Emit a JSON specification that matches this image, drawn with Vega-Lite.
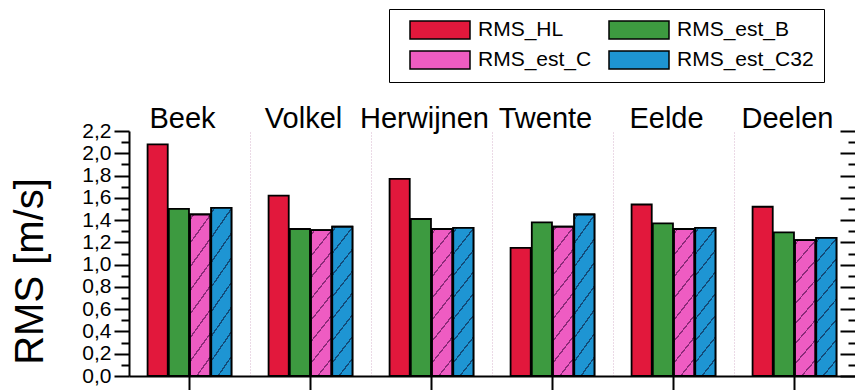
{
  "$schema": "https://vega.github.io/schema/vega-lite/v6.json",
  "width": 726,
  "height": 245,
  "autosize": {"type": "none"},
  "padding": {"left": 129, "top": 131, "right": 0, "bottom": 14},
  "background": "white",
  "config": {
    "view": {"stroke": null},
    "font": "Liberation Sans"
  },
  "data": {
    "values": [
      {"station": "Beek", "series": "RMS_HL", "value": 2.08},
      {"station": "Beek", "series": "RMS_est_B", "value": 1.50},
      {"station": "Beek", "series": "RMS_est_C", "value": 1.45},
      {"station": "Beek", "series": "RMS_est_C32", "value": 1.51},
      {"station": "Volkel", "series": "RMS_HL", "value": 1.62},
      {"station": "Volkel", "series": "RMS_est_B", "value": 1.32},
      {"station": "Volkel", "series": "RMS_est_C", "value": 1.31},
      {"station": "Volkel", "series": "RMS_est_C32", "value": 1.34},
      {"station": "Herwijnen", "series": "RMS_HL", "value": 1.77},
      {"station": "Herwijnen", "series": "RMS_est_B", "value": 1.41},
      {"station": "Herwijnen", "series": "RMS_est_C", "value": 1.32},
      {"station": "Herwijnen", "series": "RMS_est_C32", "value": 1.33},
      {"station": "Twente", "series": "RMS_HL", "value": 1.15},
      {"station": "Twente", "series": "RMS_est_B", "value": 1.38},
      {"station": "Twente", "series": "RMS_est_C", "value": 1.34},
      {"station": "Twente", "series": "RMS_est_C32", "value": 1.45},
      {"station": "Eelde", "series": "RMS_HL", "value": 1.54},
      {"station": "Eelde", "series": "RMS_est_B", "value": 1.37},
      {"station": "Eelde", "series": "RMS_est_C", "value": 1.32},
      {"station": "Eelde", "series": "RMS_est_C32", "value": 1.33},
      {"station": "Deelen", "series": "RMS_HL", "value": 1.52},
      {"station": "Deelen", "series": "RMS_est_B", "value": 1.29},
      {"station": "Deelen", "series": "RMS_est_C", "value": 1.22},
      {"station": "Deelen", "series": "RMS_est_C32", "value": 1.24}
    ]
  },
  "layer": [
    {
      "mark": {"type": "bar", "stroke": "black", "strokeWidth": 1.8},
      "encoding": {
        "x": {
          "field": "station", "type": "nominal",
          "sort": ["Beek", "Volkel", "Herwijnen", "Twente", "Eelde", "Deelen"],
          "scale": {"paddingInner": 0, "paddingOuter": 0},
          "axis": {
            "orient": "bottom", "title": null, "labels": false,
            "tickSize": 14, "tickWidth": 2, "tickColor": "black",
            "domainColor": "black", "domainWidth": 2, "grid": false
          }
        },
        "xOffset": {
          "field": "series", "type": "nominal",
          "scale": {"paddingInner": 0.05, "paddingOuter": 0.875}
        },
        "y": {
          "field": "value", "type": "quantitative",
          "scale": {"domain": [0, 2.2], "nice": false},
          "axis": {
            "orient": "left",
            "values": [0, 0.1, 0.2, 0.3, 0.4, 0.5, 0.6, 0.7, 0.8, 0.9, 1.0, 1.1, 1.2, 1.3, 1.4, 1.5, 1.6, 1.7, 1.8, 1.9, 2.0, 2.1, 2.2],
            "labelExpr": "round(datum.value*10)%2==0 ? replace(format(datum.value,'.1f'),'.',',') : ''",
            "labelFontSize": 21, "labelColor": "black", "labelPadding": 3,
            "labelOverlap": false, "labelFlush": false,
            "tickSize": {"condition": {"test": "round(datum.value*10)%2==0", "value": 15}, "value": 8},
            "tickWidth": 2, "tickColor": "black",
            "domainColor": "black", "domainWidth": 2, "grid": false,
            "title": "RMS [m/s]", "titleFontSize": 40, "titleFontWeight": "normal",
            "titleColor": "black", "titleX": -87, "titleY": 140, "titleAngle": -90,
            "titleAlign": "center", "titleBaseline": "alphabetic"
          }
        },
        "color": {
          "field": "series", "type": "nominal",
          "scale": {
            "domain": ["RMS_HL", "RMS_est_B", "RMS_est_C", "RMS_est_C32"],
            "range": ["#e2183c", "#3d9a40", "#ee5cc2", "#1e95d3"]
          },
          "legend": {
            "orient": "none", "legendX": 260, "legendY": -122,
            "columns": 2, "direction": "horizontal", "title": null,
            "symbolType": "M-3,-0.9H3V0.9H-3Z", "symbolSize": 400,
            "symbolStrokeColor": "black", "symbolStrokeWidth": 1.5, "symbolOpacity": 1,
            "symbolOffset": 30, "labelOffset": 27,
            "labelFontSize": 21, "labelColor": "black",
            "padding": 10, "strokeColor": "black", "fillColor": "white",
            "rowPadding": 6, "columnPadding": 6
          }
        }
      }
    },
    {
      "transform": [{"filter": "datum.series == 'RMS_est_C'"}],
      "mark": {
        "type": "bar", "stroke": "black", "strokeWidth": 1.8,
        "fill": {
          "gradient": "linear", "x1": 0, "y1": 0, "x2": 0.197, "y2": 1.139,
          "stops": [
            {"offset": 0, "color": "#ee5cc2"},
            {"offset": 0.02, "color": "#ee5cc2"}, {"offset": 0.02, "color": "#8a2a78"}, {"offset": 0.032, "color": "#8a2a78"}, {"offset": 0.032, "color": "#ee5cc2"},
            {"offset": 0.145, "color": "#ee5cc2"}, {"offset": 0.145, "color": "#8a2a78"}, {"offset": 0.157, "color": "#8a2a78"}, {"offset": 0.157, "color": "#ee5cc2"},
            {"offset": 0.27, "color": "#ee5cc2"}, {"offset": 0.27, "color": "#8a2a78"}, {"offset": 0.282, "color": "#8a2a78"}, {"offset": 0.282, "color": "#ee5cc2"},
            {"offset": 0.395, "color": "#ee5cc2"}, {"offset": 0.395, "color": "#8a2a78"}, {"offset": 0.407, "color": "#8a2a78"}, {"offset": 0.407, "color": "#ee5cc2"},
            {"offset": 0.52, "color": "#ee5cc2"}, {"offset": 0.52, "color": "#8a2a78"}, {"offset": 0.532, "color": "#8a2a78"}, {"offset": 0.532, "color": "#ee5cc2"},
            {"offset": 0.645, "color": "#ee5cc2"}, {"offset": 0.645, "color": "#8a2a78"}, {"offset": 0.657, "color": "#8a2a78"}, {"offset": 0.657, "color": "#ee5cc2"},
            {"offset": 0.77, "color": "#ee5cc2"}, {"offset": 0.77, "color": "#8a2a78"}, {"offset": 0.782, "color": "#8a2a78"}, {"offset": 0.782, "color": "#ee5cc2"},
            {"offset": 0.895, "color": "#ee5cc2"}, {"offset": 0.895, "color": "#8a2a78"}, {"offset": 0.907, "color": "#8a2a78"}, {"offset": 0.907, "color": "#ee5cc2"},
            {"offset": 1, "color": "#ee5cc2"}
          ]
        }
      },
      "encoding": {
        "x": {"field": "station", "type": "nominal", "sort": ["Beek", "Volkel", "Herwijnen", "Twente", "Eelde", "Deelen"], "axis": null},
        "xOffset": {"field": "series", "type": "nominal"},
        "y": {"field": "value", "type": "quantitative", "axis": null}
      }
    },
    {
      "transform": [{"filter": "datum.series == 'RMS_est_C32'"}],
      "mark": {
        "type": "bar", "stroke": "black", "strokeWidth": 1.8,
        "fill": {
          "gradient": "linear", "x1": 0, "y1": 0, "x2": 0.197, "y2": 1.139,
          "stops": [
            {"offset": 0, "color": "#1e95d3"},
            {"offset": 0.02, "color": "#1e95d3"}, {"offset": 0.02, "color": "#134a78"}, {"offset": 0.032, "color": "#134a78"}, {"offset": 0.032, "color": "#1e95d3"},
            {"offset": 0.145, "color": "#1e95d3"}, {"offset": 0.145, "color": "#134a78"}, {"offset": 0.157, "color": "#134a78"}, {"offset": 0.157, "color": "#1e95d3"},
            {"offset": 0.27, "color": "#1e95d3"}, {"offset": 0.27, "color": "#134a78"}, {"offset": 0.282, "color": "#134a78"}, {"offset": 0.282, "color": "#1e95d3"},
            {"offset": 0.395, "color": "#1e95d3"}, {"offset": 0.395, "color": "#134a78"}, {"offset": 0.407, "color": "#134a78"}, {"offset": 0.407, "color": "#1e95d3"},
            {"offset": 0.52, "color": "#1e95d3"}, {"offset": 0.52, "color": "#134a78"}, {"offset": 0.532, "color": "#134a78"}, {"offset": 0.532, "color": "#1e95d3"},
            {"offset": 0.645, "color": "#1e95d3"}, {"offset": 0.645, "color": "#134a78"}, {"offset": 0.657, "color": "#134a78"}, {"offset": 0.657, "color": "#1e95d3"},
            {"offset": 0.77, "color": "#1e95d3"}, {"offset": 0.77, "color": "#134a78"}, {"offset": 0.782, "color": "#134a78"}, {"offset": 0.782, "color": "#1e95d3"},
            {"offset": 0.895, "color": "#1e95d3"}, {"offset": 0.895, "color": "#134a78"}, {"offset": 0.907, "color": "#134a78"}, {"offset": 0.907, "color": "#1e95d3"},
            {"offset": 1, "color": "#1e95d3"}
          ]
        }
      },
      "encoding": {
        "x": {"field": "station", "type": "nominal", "sort": ["Beek", "Volkel", "Herwijnen", "Twente", "Eelde", "Deelen"], "axis": null},
        "xOffset": {"field": "series", "type": "nominal"},
        "y": {"field": "value", "type": "quantitative", "axis": null}
      }
    },
    {
      "mark": {"type": "bar", "opacity": 0},
      "encoding": {
        "x": {
          "field": "station", "type": "nominal",
          "sort": ["Beek", "Volkel", "Herwijnen", "Twente", "Eelde", "Deelen"],
          "axis": {
            "orient": "top", "title": null, "ticks": false, "domain": false,
            "labelFontSize": 29, "labelColor": "black", "labelAngle": 0,
            "labelBaseline": "alphabetic", "labelPadding": 4, "labelOffset": -7,
            "bandPosition": 0,
            "grid": true, "gridDash": [1, 2], "gridColor": "#d6b4cc", "gridWidth": 1
          }
        },
        "y": {
          "field": "value", "type": "quantitative",
          "axis": {
            "orient": "right", "title": null, "labels": false, "domain": false,
            "values": [0, 0.1, 0.2, 0.3, 0.4, 0.5, 0.6, 0.7, 0.8, 0.9, 1.0, 1.1, 1.2, 1.3, 1.4, 1.5, 1.6, 1.7, 1.8, 1.9, 2.0, 2.1, 2.2],
            "tickSize": {"condition": {"test": "round(datum.value*10)%2==0", "value": -15}, "value": -7},
            "tickWidth": 2, "tickColor": "black", "grid": false
          }
        }
      }
    }
  ],
  "resolve": {"axis": {"x": "independent", "y": "independent"}}
}
